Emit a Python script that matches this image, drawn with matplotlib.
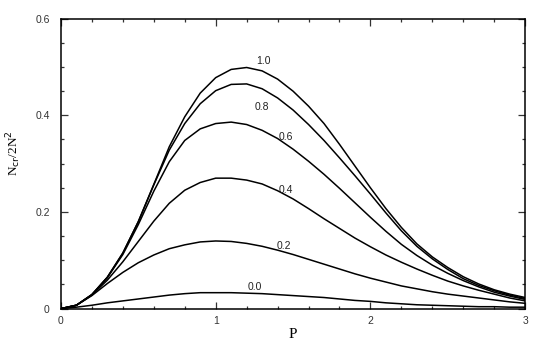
import numpy as np
import matplotlib
matplotlib.use("Agg")
import matplotlib.pyplot as plt
from matplotlib.ticker import MultipleLocator

P = [0.0, 0.1, 0.2, 0.3, 0.4, 0.5, 0.6, 0.7, 0.8, 0.9, 1.0,
     1.1, 1.2, 1.3, 1.4, 1.5, 1.6, 1.7, 1.8, 1.9, 2.0,
     2.1, 2.2, 2.3, 2.4, 2.5, 2.6, 2.7, 2.8, 2.9, 3.0]

curve_1_0 = [0, 0.007, 0.029, 0.065, 0.115, 0.180, 0.257, 0.335, 0.397, 0.446, 0.478,
             0.495, 0.499, 0.492, 0.475, 0.450, 0.419, 0.383, 0.340, 0.295, 0.250,
             0.207, 0.168, 0.134, 0.107, 0.085, 0.066, 0.051, 0.039, 0.030, 0.023]
curve_0_8 = [0, 0.007, 0.029, 0.065, 0.115, 0.180, 0.256, 0.328, 0.383, 0.424, 0.451,
             0.464, 0.465, 0.455, 0.436, 0.411, 0.381, 0.348, 0.312, 0.275, 0.237,
             0.198, 0.161, 0.129, 0.103, 0.081, 0.062, 0.048, 0.037, 0.028, 0.021]
curve_0_6 = [0, 0.007, 0.029, 0.064, 0.112, 0.174, 0.243, 0.304, 0.348, 0.372, 0.383,
             0.386, 0.381, 0.369, 0.352, 0.330, 0.305, 0.278, 0.249, 0.219, 0.189,
             0.160, 0.133, 0.110, 0.090, 0.073, 0.058, 0.045, 0.034, 0.026, 0.019]
curve_0_4 = [0, 0.007, 0.028, 0.059, 0.097, 0.139, 0.181, 0.218, 0.245, 0.261, 0.270,
             0.270, 0.266, 0.258, 0.244, 0.227, 0.207, 0.186, 0.166, 0.146, 0.128,
             0.111, 0.096, 0.082, 0.069, 0.057, 0.047, 0.038, 0.030, 0.022, 0.016]
curve_0_2 = [0, 0.007, 0.027, 0.052, 0.075, 0.095, 0.111, 0.124, 0.132, 0.138, 0.140,
             0.139, 0.135, 0.129, 0.121, 0.112, 0.102, 0.092, 0.082, 0.072, 0.063,
             0.055, 0.047, 0.041, 0.035, 0.030, 0.026, 0.022, 0.018, 0.014, 0.011]
curve_0_0 = [0, 0.003, 0.007, 0.012, 0.016, 0.020, 0.024, 0.028, 0.031, 0.033, 0.033,
             0.033, 0.032, 0.031, 0.029, 0.027, 0.025, 0.023, 0.020, 0.017, 0.015,
             0.012, 0.010, 0.008, 0.007, 0.006, 0.005, 0.004, 0.004, 0.003, 0.003]

curves = [curve_1_0, curve_0_8, curve_0_6, curve_0_4, curve_0_2, curve_0_0]
labels = ["1.0", "0.8", "0.6", "0.4", "0.2", "0.0"]
label_x = [1.31, 1.30, 1.45, 1.45, 1.44, 1.25]
label_y = [0.512, 0.417, 0.356, 0.245, 0.130, 0.044]

xticks = [0, 1, 2, 3]
xticklabels = ["0", "1", "2", "3"]
yticks = [0, 0.2, 0.4, 0.6]
yticklabels = ["0", "0.2", "0.4", "0.6"]

fig = plt.figure(figsize=(5.54, 3.46), dpi=100)
ax = fig.add_axes([0.110, 0.108, 0.838, 0.838])

for c in curves:
    ax.plot(P, c, color="black", lw=1.1, solid_joinstyle="round")

for lab, lx, ly in zip(labels, label_x, label_y):
    ax.text(lx, ly, lab, fontsize=7.5, ha="center", va="center",
            family="Liberation Sans", color="#222222")

ax.set_xlim(0, 3)
ax.set_ylim(0, 0.6)
ax.set_xticks(xticks)
ax.set_xticklabels(xticklabels)
ax.set_yticks(yticks)
ax.set_yticklabels(yticklabels)
ax.xaxis.set_minor_locator(MultipleLocator(0.2))
ax.yaxis.set_minor_locator(MultipleLocator(0.05))
ax.tick_params(which="both", direction="in", top=True, right=True, width=0.9,
               colors="#333333", labelsize=7.5)
ax.tick_params(which="major", length=5)
ax.tick_params(which="minor", length=2.5)
ax.tick_params(axis="y", which="major", pad=8)
ax.tick_params(axis="x", which="major", pad=5)
for lab in ax.get_xticklabels() + ax.get_yticklabels():
    lab.set_family("Liberation Sans")
for s in ax.spines.values():
    s.set_linewidth(1.1)

ax.set_xlabel("P", family="Liberation Serif", fontsize=11, labelpad=1.5)
ax.set_ylabel(r"N$_{\rm cr}$/2N$^{2}$", family="Liberation Serif", fontsize=9.5)
ax.yaxis.set_label_coords(-0.082, 0.537)

fig.savefig("out.png", dpi=100)
